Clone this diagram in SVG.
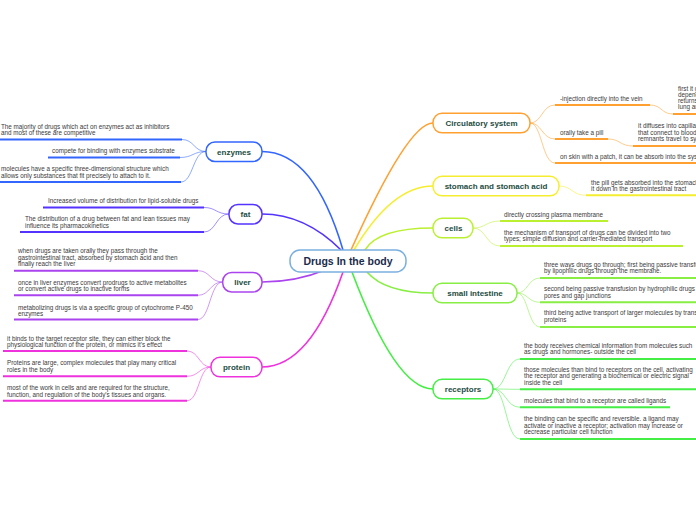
<svg xmlns="http://www.w3.org/2000/svg" width="696" height="520" viewBox="0 0 696 520">
<style>
.t{font-family:"Liberation Sans",Arial,sans-serif;font-size:6.3px;fill:#3a3a3a}
.n{font-family:"Liberation Sans",Arial,sans-serif;font-size:8px;font-weight:bold;fill:#1d4d3f;text-anchor:middle}
.r{fill:#fff;stroke-width:1.5}
.u{fill:none;stroke-width:2}
.c{fill:none;stroke-width:1;stroke-opacity:.55}
.m{fill:none;stroke-width:1.6}
.blue{stroke:#3366ff}.violet{stroke:#5533ff}.purple{stroke:#aa44ee}.mag{stroke:#ee33dd}
.orange{stroke:#ffa030}.yellow{stroke:#f5ee30}.lime{stroke:#bbf030}.lgreen{stroke:#88ee44}.green{stroke:#44ee44}
</style>
<rect width="696" height="520" fill="#fff"/>
<g id="connectors">
<path class="m blue" d="M343,250 Q314,151.5 262,151.5"/>
<path class="m violet" d="M341,250 Q305,214 262,214"/>
<path class="m purple" d="M325,270 Q296,282 262,282"/>
<path class="m mag" d="M343,272 Q310,367 262,367"/>
<path class="m orange" d="M351,250 Q408,123 433,123"/>
<path class="m yellow" d="M354,250 Q392,186 433,186"/>
<path class="m lime" d="M365,250 Q378,228 433,228"/>
<path class="m lgreen" d="M367,272 Q385,293 433,293"/>
<path class="m green" d="M352,272 Q396,389 433,389"/>
<!-- enzymes -->
<path class="c blue" d="M206,151.5 C194,151.5 194,139.5 182,139.5"/>
<path class="c blue" d="M206,151.5 C193,151.5 193,157.5 180,157.5"/>
<path class="c blue" d="M206,151.5 C193,151.5 193,182 181,182"/>
<path class="u blue" d="M0,139.5 H182 M48,157.5 H180 M0,182 H181"/>
<!-- fat -->
<path class="c violet" d="M229,214 C216,214 216,207.5 204,207.5"/>
<path class="c violet" d="M229,214 C216,214 216,232 204,232"/>
<path class="u violet" d="M43,207.5 H204 M20,232 H204"/>
<!-- liver -->
<path class="c purple" d="M222.7,282 C210,282 210,270.7 198,270.7"/>
<path class="c purple" d="M222.7,282 C210,282 210,295.3 198,295.3"/>
<path class="c purple" d="M222.7,282 C210,282 210,319.5 198,319.5"/>
<path class="u purple" d="M14,270.7 H198 M14,295.3 H198 M14,319.5 H198"/>
<!-- protein -->
<path class="c mag" d="M211,367 C199,367 199,351 187,351"/>
<path class="c mag" d="M211,367 C199,367 199,376.3 187,376.3"/>
<path class="c mag" d="M211,367 C199,367 199,400.7 187,400.7"/>
<path class="u mag" d="M3,351 H187 M3,376.3 H187 M3,400.7 H187"/>
<!-- circulatory -->
<path class="c orange" d="M530,123 C542,123 542,105 555,105"/>
<path class="c orange" d="M530,123 C542,123 542,139 555,139"/>
<path class="c orange" d="M530,123 C542,123 542,163 555,163"/>
<path class="c orange" d="M650,105 C662,105 661,114 673,114"/>
<path class="c orange" d="M608,139 C620,139 620,146 633,146"/>
<path class="u orange" d="M555,105 H650 M673,114 H696 M555,139 H608 M633,146 H696 M555,163 H696"/>
<!-- stomach -->
<path class="c yellow" d="M559,186 C572,186 572,195.3 586,195.3"/>
<path class="u yellow" d="M586,195.3 H696"/>
<!-- cells -->
<path class="c lime" d="M473,228 C486,228 486,221 500,221"/>
<path class="c lime" d="M473,228 C486,228 486,246 500,246"/>
<path class="u lime" d="M500,221 H608 M500,246 H683"/>
<!-- small intestine -->
<path class="c lgreen" d="M517,293 C528,293 528,278 540,278"/>
<path class="c lgreen" d="M517,293 C528,293 528,302.3 540,302.3"/>
<path class="c lgreen" d="M517,293 C528,293 528,327 540,327"/>
<path class="u lgreen" d="M540,278 H696 M540,302.3 H696 M540,327 H696"/>
<!-- receptors -->
<path class="c green" d="M493,389 C506,389 506,359 520,359"/>
<path class="c green" d="M493,389 C506,389 506,389.3 520,389.3"/>
<path class="c green" d="M493,389 C506,389 506,407.3 520,407.3"/>
<path class="c green" d="M493,389 C506,389 506,439 520,439"/>
<path class="u green" d="M520,359 H696 M520,389.3 H696 M520,407.3 H670 M520,439 H696"/>
</g>

<g id="root">
<rect x="290" y="250" width="116" height="22" rx="10" fill="#fff" stroke="#7ab0e0" stroke-width="1.5"/>
<text x="348" y="264.5" text-anchor="middle" style="font-family:'Liberation Sans',Arial,sans-serif;font-size:10.5px;font-weight:bold;fill:#1a2b4c">Drugs In the body</text>
</g>

<g id="enzymes">
<rect class="r blue" x="206" y="142" width="56" height="19.5" rx="9"/>
<text class="n" x="234" y="154.5">enzymes</text>
<text class="t" x="1" y="128.7">The majority of drugs which act on enzymes act as inhibitors<tspan x="1" y="134.7">and most of these are competitive</tspan></text>
<text class="t" x="52" y="153">compete for binding with enzymes substrate</text>
<text class="t" x="1" y="170.5">molecules have a specific three-dimensional structure which<tspan x="1" y="177.5">allows only substances that fit precisely to attach to it.</tspan></text>
</g>

<g id="fat">
<rect class="r violet" x="229" y="204.5" width="33" height="19.5" rx="9"/>
<text class="n" x="245.5" y="217">fat</text>
<text class="t" x="48" y="203">Increased volume of distribution for lipid-soluble drugs</text>
<text class="t" x="25" y="221">The distribution of a drug between fat and lean tissues may<tspan x="25" y="227.7">influence its pharmacokinetics</tspan></text>
</g>

<g id="liver">
<rect class="r purple" x="222.7" y="272.5" width="39.3" height="19.5" rx="9"/>
<text class="n" x="242.5" y="285">liver</text>
<text class="t" x="18" y="253">when drugs are taken orally they pass through the<tspan x="18" y="259.5">gastrointestinal tract, absorbed by stomach acid and then</tspan><tspan x="18" y="266">finally reach the liver</tspan></text>
<text class="t" x="18" y="284.5">once in liver enzymes convert prodrugs to active metabolites<tspan x="18" y="291">or convert active drugs to inactive forms</tspan></text>
<text class="t" x="18" y="309.5">metabolizing drugs is via a specific group of cytochrome P-450<tspan x="18" y="315.5">enzymes</tspan></text>
</g>

<g id="protein">
<rect class="r mag" x="211" y="357.3" width="51" height="19.5" rx="9"/>
<text class="n" x="236.5" y="370">protein</text>
<text class="t" x="7" y="341">it binds to the target receptor site, they can either block the<tspan x="7" y="347">physiological function of the protein, or mimics it's effect</tspan></text>
<text class="t" x="7" y="365">Proteins are large, complex molecules that play many critical<tspan x="7" y="371.5">roles in the body</tspan></text>
<text class="t" x="7" y="390">most of the work in cells and are required for the structure,<tspan x="7" y="396.5">function, and regulation of the body's tissues and organs.</tspan></text>
</g>

<g id="circulatory">
<rect class="r orange" x="433" y="113.3" width="97" height="19.5" rx="9"/>
<text class="n" x="481.5" y="126">Circulatory system</text>
<text class="t" x="560" y="101">-injection directly into the vein</text>
<text class="t" x="678" y="91">first it goes<tspan x="678" y="97">depending</tspan><tspan x="678" y="103">returns</tspan><tspan x="678" y="109">lung and</tspan></text>
<text class="t" x="560" y="135">orally take a pill</text>
<text class="t" x="638" y="128">it diffuses into capillaries<tspan x="638" y="134.5">that connect to blood vessels</tspan><tspan x="638" y="141">remnants travel to system</tspan></text>
<text class="t" x="560" y="159">on skin with a patch, it can be absorb into the system</text>
</g>

<g id="stomach">
<rect class="r yellow" x="433" y="176.3" width="126" height="19.5" rx="9"/>
<text class="n" x="496" y="189">stomach and stomach acid</text>
<text class="t" x="591" y="185">the pill gets absorbed into the stomach<tspan x="591" y="191.3">it down in the gastrointestinal tract</tspan></text>
</g>

<g id="cells">
<rect class="r lime" x="433" y="218.3" width="40" height="19.5" rx="9"/>
<text class="n" x="453.5" y="231">cells</text>
<text class="t" x="504" y="217">directly crossing plasma membrane</text>
<text class="t" x="504" y="235">the mechanism of transport of drugs can be divided into two<tspan x="504" y="241.3">types; simple diffusion and carrier-mediated transport</tspan></text>
</g>

<g id="small-intestine">
<rect class="r lgreen" x="433" y="283.3" width="84" height="19.5" rx="9"/>
<text class="n" x="475" y="296">small intestine</text>
<text class="t" x="544" y="267">three ways drugs go through; first being passive transfusion<tspan x="544" y="273">by lipophilic drugs through the membrane.</tspan></text>
<text class="t" x="544" y="291">second being passive transfusion by hydrophilic drugs through<tspan x="544" y="298">pores and gap junctions</tspan></text>
<text class="t" x="544" y="315.3">third being active transport of larger molecules by transport<tspan x="544" y="322">proteins</tspan></text>
</g>

<g id="receptors">
<rect class="r green" x="433" y="379.3" width="60" height="19.5" rx="9"/>
<text class="n" x="463" y="392">receptors</text>
<text class="t" x="524" y="348">the body receives chemical information from molecules such<tspan x="524" y="354.3">as drugs and hormones- outside the cell</tspan></text>
<text class="t" x="524" y="372">those molecules than bind to receptors on the cell, activating<tspan x="524" y="378.3">the receptor and generating a biochemical or electric signal</tspan><tspan x="524" y="384.7">inside the cell</tspan></text>
<text class="t" x="524" y="403">molecules that bind to a receptor are called ligands</text>
<text class="t" x="524" y="421">the binding can be specific and reversible. a ligand may<tspan x="524" y="427.7">activate or inactive a receptor; activation may increase or</tspan><tspan x="524" y="434">decrease particular cell function</tspan></text>
</g>
</svg>
